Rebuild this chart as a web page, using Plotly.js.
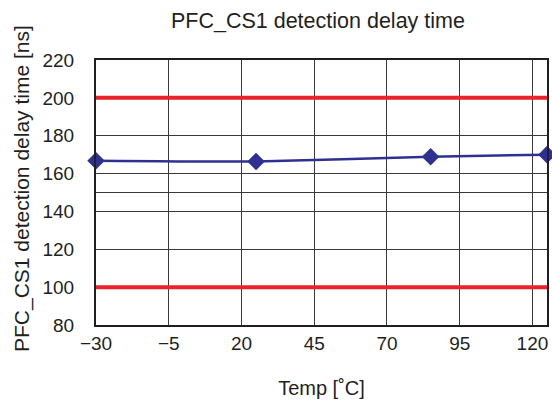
<!DOCTYPE html>
<html>
<head>
<meta charset="utf-8">
<script src="https://cdn.plot.ly/plotly-3.0.1.min.js"></script>
<style>html,body{margin:0;padding:0;background:#fff;}#chart{width:552px;height:405px;}</style>
</head>
<body>
<div id="chart"></div>
<script>
// Data
const tempC = [-30, 25, 85, 125];
const delayNs = [166.8, 166.4, 168.9, 170.0];
const limitX = [-30, 125];
const upperLimit = [200, 200];
const lowerLimit = [100, 100];
const xTicks = [-30, -5, 20, 45, 70, 95, 120];
const xTickText = ['\u221230', '\u22125', '20', '45', '70', '95', '120'];
const yTicks = [80, 100, 120, 140, 150, 160, 180, 200, 220];
const yTickText = ['80', '100', '120', '140', '', '160', '180', '200', '220'];
const yTitle = 'PFC_CS1 detection delay time [ns]';

const font = 'Liberation Sans, Arial, sans-serif';
const txt = '#231f20';

const traces = [
  {x: limitX, y: upperLimit, mode: 'lines', line: {color: '#e8232b', width: 4}, hoverinfo: 'skip'},
  {x: limitX, y: lowerLimit, mode: 'lines', line: {color: '#e8232b', width: 4}, hoverinfo: 'skip'},
  {x: tempC, y: delayNs, mode: 'lines+markers',
   line: {color: '#2e3192', width: 2.5, shape: 'spline', smoothing: 0.6},
   marker: {symbol: 'diamond', size: 13.5, color: '#2e3192'}, cliponaxis: false}
];

const layout = {
  width: 552, height: 405,
  margin: {l: 96, r: 5, t: 60, b: 80},
  paper_bgcolor: '#fff', plot_bgcolor: '#fff',
  showlegend: false,
  font: {family: font, color: txt, size: 19},
  title: {text: 'PFC_CS1 detection delay time', x: 0.576, xanchor: 'center', y: 0.95, yanchor: 'middle',
          font: {family: font, size: 21.5, color: txt}},
  xaxis: {
    range: [-30, 125], tickvals: xTicks, ticktext: xTickText,
    showgrid: true, gridcolor: '#3a3a3a', gridwidth: 1,
    zeroline: false, showline: true, linecolor: txt, linewidth: 2, mirror: true,
    ticks: '', ticklabelstandoff: 0, tickfont: {size: 19, family: font, color: txt},
    title: {text: 'Temp [\u02daC]', font: {size: 20, family: font, color: txt}, standoff: 28}
  },
  yaxis: {
    range: [80, 220], tickvals: yTicks, ticktext: yTickText,
    showgrid: true, gridcolor: '#3a3a3a', gridwidth: 1,
    zeroline: false, showline: true, linecolor: txt, linewidth: 2, mirror: true,
    ticks: '', ticklabelstandoff: 16, tickfont: {size: 19, family: font, color: txt}
  },
  annotations: [{
    text: yTitle, textangle: -90, showarrow: false,
    xref: 'paper', yref: 'paper', x: -0.1635, y: 0.514, xanchor: 'center', yanchor: 'middle',
    font: {size: 21, family: font, color: txt}
  }]
};

Plotly.newPlot('chart', traces, layout, {displayModeBar: false, staticPlot: true});
</script>
</body>
</html>
